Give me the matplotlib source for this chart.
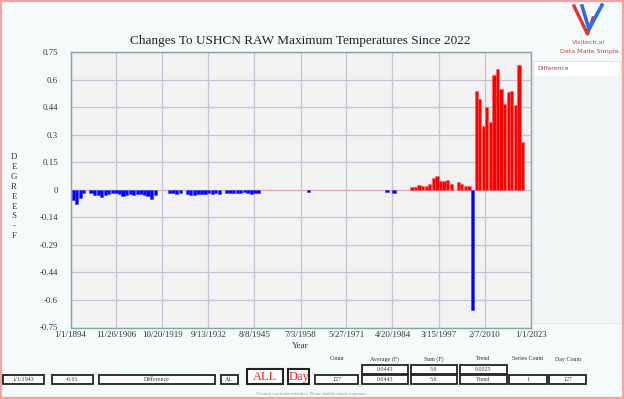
import numpy as np
import pandas as pd
import matplotlib
matplotlib.use("Agg")
import matplotlib.pyplot as plt
from matplotlib.patches import Rectangle
from matplotlib.lines import Line2D

# data: yearly difference (F), 1895..2021
years = list(range(1895, 2022))
diff = [
    -0.055, -0.075, -0.045, -0.020, 0.000, -0.020, -0.029, -0.029, -0.041, -0.029,
    -0.024, -0.020, -0.020, -0.024, -0.033, -0.029, -0.024, -0.029, -0.024, -0.024,
    -0.029, -0.035, -0.050, -0.029, 0.000, 0.000, 0.000, -0.016, -0.020, -0.025,
    -0.016, 0.000, -0.024, -0.029, -0.029, -0.024, -0.024, -0.025, -0.020, -0.024,
    -0.016, -0.024, 0.000, -0.020, -0.016, -0.020, -0.016, -0.020, -0.010, -0.020,
    -0.024, -0.016, -0.016, 0.000, 0.000, 0.000, 0.000, 0.000, 0.000, 0.000,
    0.000, 0.000, 0.000, 0.000, 0.000, 0.000, -0.012, 0.000, 0.000, 0.000,
    0.000, 0.000, 0.000, 0.000, 0.000, 0.000, 0.000, 0.000, 0.000, 0.000,
    0.000, 0.000, 0.000, 0.000, 0.000, 0.000, 0.000, 0.000, -0.011, 0.000,
    -0.016, 0.000, 0.000, 0.000, 0.000, 0.016, 0.015, 0.025, 0.018, 0.018,
    0.033, 0.065, 0.076, 0.047, 0.047, 0.053, 0.033, 0.000, 0.044, 0.029,
    0.020, 0.020, -0.655, 0.537, 0.496, 0.349, 0.452, 0.370, 0.625, 0.657,
    0.551, 0.467, 0.531, 0.535, 0.461, 0.679, 0.258,
]

tick_dates = ["1894-01-01", "1906-11-26", "1919-10-20", "1932-09-13", "1945-08-08",
              "1958-07-03", "1971-05-27", "1984-04-20", "1997-03-15", "2010-02-07",
              "2023-01-01"]
tick_labels = ["1/1/1894", "11/26/1906", "10/20/1919", "9/13/1932", "8/8/1945",
               "7/3/1958", "5/27/1971", "4/20/1984", "3/15/1997", "2/7/2010", "1/1/2023"]
y_ticks = [0.75, 0.6, 0.45, 0.3, 0.15, 0, -0.15, -0.3, -0.45, -0.6, -0.75]
y_labels = ["0.75", "0.6", "0.44", "0.3", "0.15", "0", "-0.14", "-0.29", "-0.44", "-0.6", "-0.75"]

# bottom panel values
row_boxes = [("1/1/1943", 2.7, 44), ("-0.01", 51.7, 93), ("Difference", 99, 215),
             ("AL", 220.7, 238), ("127", 315, 358), ("0.0443", 361.7, 407.7),
             ("5.6", 411, 456.7), ("Trend", 460, 506.7), ("1", 509, 546.7),
             ("127", 549, 586)]
top_boxes = [("0.0443", 361.7, 407.7), ("5.6", 411, 456.7), ("0.0025", 460, 506.7)]
headers = [("Count", 336.7), ("Average (F)", 384.7), ("Sum (F)", 433.3),
           ("Trend", 483.3), ("Series Count", 527.7), ("Day Count", 567.7)]

W, H = 624, 399
SERIF = ["Liberation Serif", "DejaVu Serif"]


def fx(px):
    return px / W


def fy(py):
    return 1 - py / H


fig = plt.figure(figsize=(W / 100, H / 100), dpi=100, facecolor="#f5fafa")

# outer pink border
fig.add_artist(Rectangle((fx(1), fy(398)), fx(622), 397 / H, transform=fig.transFigure,
                         fill=False, edgecolor="#f4a3a3", linewidth=1.6))

ax = fig.add_axes([fx(70.5), fy(327.5), fx(530.5) - fx(70.5), fy(52) - fy(327.5)])
ax.set_facecolor("#f2f2f2")

pos = [pd.Timestamp(f"{y}-01-01") - pd.Timedelta(days=91) for y in years]
colors = ["#ff0000" if v > 0 else ("#0000ff" if v < 0 else "#f08a8a") for v in diff]
edges = ["#ff5a5a" if v > 0 else ("#3a3aff" if v < 0 else "#f08a8a") for v in diff]
ax.bar(pos, diff, width=330, color=colors, edgecolor=edges, linewidth=0.4, zorder=3)

ax.set_xlim(pd.Timestamp("1894-01-01"), pd.Timestamp("2023-01-01"))
ax.set_ylim(-0.75, 0.75)
ax.set_xticks([pd.Timestamp(d) for d in tick_dates])
ax.set_xticklabels(tick_labels, fontsize=6.4, family=SERIF, color="#333333")
ax.set_yticks(y_ticks)
ax.set_yticklabels(y_labels, fontsize=6.3, family=SERIF, color="#333333")
ax.tick_params(length=0)
ax.tick_params(axis="x", pad=2.5)
ax.tick_params(axis="y", pad=9)
ax.grid(True, color="#c8c4d8", linewidth=0.9, zorder=0)
ax.set_axisbelow(True)
for s in ax.spines.values():
    s.set_color("#7fa9a6")
    s.set_linewidth(1.0)

fig.text(fx(300), fy(41), "Changes To USHCN RAW Maximum Temperatures Since 2022",
         ha="center", va="center", fontsize=9.5, family=SERIF, color="#222222")
fig.text(fx(300), fy(346), "Year", ha="center", va="center", fontsize=6.5,
         family=SERIF, color="#333333")
for i, ch in enumerate("DEGREES-F"):
    fig.text(fx(14), fy(157 + i * 9.9), ch, ha="center", va="center", fontsize=6.3,
             family=SERIF, color="#333333")

# legend panel
fig.add_artist(Rectangle((fx(533), fy(323)), fx(87.7), (323 - 60.7) / H,
                         transform=fig.transFigure, facecolor="#f3f6f6",
                         edgecolor="#e2e8e8", linewidth=0.8))
fig.add_artist(Rectangle((fx(535), fy(76)), fx(84), 14 / H, transform=fig.transFigure,
                         facecolor="white", edgecolor="none"))
fig.text(fx(537), fy(69), "Difference", ha="left", va="center", fontsize=4.3,
         color="#b03a48")

# logo
fig.add_artist(Line2D([fx(574), fx(587.5), fx(593)], [fy(6), fy(34), fy(18)],
                      transform=fig.transFigure, color="#e8312f", linewidth=2.4,
                      solid_joinstyle="round"))
fig.add_artist(Line2D([fx(582), fx(589), fx(602)], [fy(6), fy(29), fy(5)],
                      transform=fig.transFigure, color="#2a6fe0", linewidth=2.6,
                      solid_joinstyle="round"))
fig.text(fx(589), fy(42), "Visitech.ai", ha="center", va="center", fontsize=4.6,
         color="#e03a3a")
fig.text(fx(589), fy(51), "Data Made Simple", ha="center", va="center", fontsize=4.6,
         color="#e03a3a")


def box(x0, x1, y0, y1, text, color="#333333", size=4.3, lw=1.3):
    fig.add_artist(Rectangle((fx(x0), fy(y1)), fx(x1 - x0), (y1 - y0) / H,
                             transform=fig.transFigure, facecolor="white",
                             edgecolor="#222222", linewidth=lw))
    fig.text(fx((x0 + x1) / 2), fy((y0 + y1) / 2), text, ha="center", va="center",
             fontsize=size, family=SERIF, color=color)


for t, x0, x1 in row_boxes:
    box(x0, x1, 375, 384, t)
for t, x0, x1 in top_boxes:
    box(x0, x1, 364.7, 374, t)
box(246.7, 283.3, 369.3, 384.3, "ALL", color="#ff2020", size=9, lw=1.5)
box(288, 309.3, 369.3, 384.3, "Day", color="#ff2020", size=9, lw=1.5)
for t, x in headers:
    fig.text(fx(x), fy(359), t, ha="center", va="center", fontsize=4.3, family=SERIF,
             color="#333333")
fig.text(fx(312), fy(393.5), "Visitech can make mistakes. Please double-check responses.",
         ha="center", va="center", fontsize=3.3, family=SERIF, color="#999999")

fig.savefig("out.png", dpi=100, facecolor=fig.get_facecolor())
